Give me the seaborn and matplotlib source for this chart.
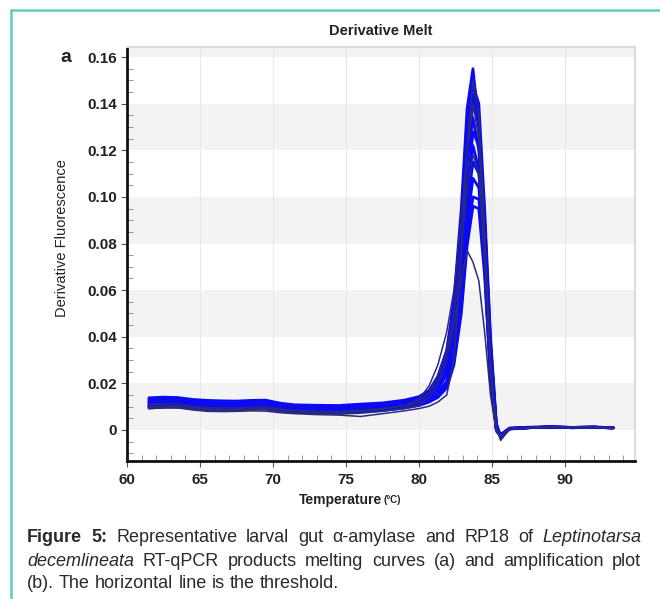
import matplotlib
matplotlib.use("Agg")
import matplotlib.pyplot as plt
import seaborn as sns
import pandas as pd
from matplotlib.lines import Line2D
from matplotlib.ticker import MultipleLocator

sns.set_theme(style="white")
plt.rcParams["font.family"] = ["Liberation Sans", "DejaVu Sans"]

# ---------------- data ----------------
temperature = [61.5, 62.5, 63.5, 64.5, 65.5, 66.5, 67.5, 68.5, 69.5, 70.5, 71.5, 73.0,
               74.5, 76.0, 77.5, 79.0, 80.0, 80.7, 81.3, 81.9, 82.4, 82.9, 83.3, 83.7,
               84.1, 84.5, 84.9, 85.3, 85.6, 86.2, 87.5, 89.0, 90.5, 92.0, 93.3]

curve_a = [0.0138, 0.0141, 0.0139, 0.0131, 0.0127, 0.0125, 0.0124, 0.0127, 0.0128, 0.0115, 0.0108, 0.0106,
           0.0105, 0.0111, 0.0116, 0.0128, 0.0143, 0.0170, 0.0230, 0.0340, 0.0560, 0.0950, 0.1380, 0.1550,
           0.1300, 0.0700, 0.0200, 0.0010, -0.0020, 0.0008, 0.0012, 0.0014, 0.0011, 0.0013, 0.0010]
curve_b = [0.0132, 0.0136, 0.0134, 0.0127, 0.0123, 0.0121, 0.0120, 0.0123, 0.0124, 0.0111, 0.0104, 0.0102,
           0.0101, 0.0106, 0.0112, 0.0123, 0.0137, 0.0160, 0.0210, 0.0310, 0.0520, 0.0900, 0.1330, 0.1520,
           0.1340, 0.0820, 0.0280, 0.0000, -0.0025, 0.0006, 0.0010, 0.0013, 0.0010, 0.0012, 0.0009]
curve_c = [0.0127, 0.0132, 0.0130, 0.0123, 0.0119, 0.0117, 0.0116, 0.0119, 0.0121, 0.0107, 0.0100, 0.0098,
           0.0097, 0.0102, 0.0108, 0.0119, 0.0131, 0.0150, 0.0190, 0.0280, 0.0470, 0.0830, 0.1250, 0.1480,
           0.1400, 0.0950, 0.0400, 0.0030, -0.0030, 0.0005, 0.0011, 0.0012, 0.0010, 0.0011, 0.0010]
curve_d = [0.0122, 0.0127, 0.0125, 0.0119, 0.0115, 0.0113, 0.0112, 0.0116, 0.0117, 0.0104, 0.0097, 0.0095,
           0.0094, 0.0099, 0.0104, 0.0115, 0.0127, 0.0155, 0.0210, 0.0320, 0.0520, 0.0850, 0.1220, 0.1440,
           0.1300, 0.0800, 0.0270, 0.0005, -0.0028, 0.0007, 0.0010, 0.0013, 0.0011, 0.0012, 0.0009]
curve_e = [0.0118, 0.0123, 0.0121, 0.0115, 0.0111, 0.0109, 0.0109, 0.0112, 0.0114, 0.0101, 0.0094, 0.0092,
           0.0091, 0.0096, 0.0101, 0.0111, 0.0123, 0.0140, 0.0170, 0.0240, 0.0400, 0.0740, 0.1150, 0.1400,
           0.1320, 0.0900, 0.0380, 0.0020, -0.0035, 0.0004, 0.0010, 0.0012, 0.0010, 0.0011, 0.0010]
curve_f = [0.0114, 0.0119, 0.0117, 0.0111, 0.0108, 0.0106, 0.0105, 0.0109, 0.0110, 0.0098, 0.0091, 0.0089,
           0.0088, 0.0093, 0.0098, 0.0108, 0.0120, 0.0160, 0.0230, 0.0340, 0.0520, 0.0820, 0.1150, 0.1340,
           0.1200, 0.0760, 0.0260, 0.0000, -0.0025, 0.0006, 0.0010, 0.0012, 0.0011, 0.0012, 0.0009]
curve_g = [0.0110, 0.0115, 0.0113, 0.0107, 0.0104, 0.0102, 0.0102, 0.0105, 0.0107, 0.0095, 0.0088, 0.0086,
           0.0085, 0.0090, 0.0095, 0.0105, 0.0116, 0.0130, 0.0150, 0.0200, 0.0330, 0.0620, 0.1020, 0.1280,
           0.1220, 0.0880, 0.0360, 0.0020, -0.0030, 0.0005, 0.0010, 0.0012, 0.0010, 0.0011, 0.0010]
curve_h = [0.0106, 0.0111, 0.0109, 0.0103, 0.0100, 0.0098, 0.0098, 0.0102, 0.0103, 0.0091, 0.0085, 0.0083,
           0.0082, 0.0087, 0.0092, 0.0102, 0.0113, 0.0140, 0.0180, 0.0260, 0.0420, 0.0700, 0.1030, 0.1220,
           0.1120, 0.0720, 0.0250, 0.0000, -0.0022, 0.0007, 0.0010, 0.0013, 0.0011, 0.0012, 0.0009]
curve_i = [0.0103, 0.0108, 0.0106, 0.0100, 0.0097, 0.0095, 0.0095, 0.0099, 0.0101, 0.0089, 0.0083, 0.0081,
           0.0080, 0.0085, 0.0090, 0.0100, 0.0111, 0.0130, 0.0155, 0.0210, 0.0340, 0.0610, 0.0950, 0.1150,
           0.1100, 0.0800, 0.0330, 0.0020, -0.0028, 0.0005, 0.0010, 0.0012, 0.0010, 0.0011, 0.0010]
curve_j = [0.0100, 0.0105, 0.0103, 0.0097, 0.0094, 0.0092, 0.0092, 0.0096, 0.0098, 0.0087, 0.0081, 0.0079,
           0.0078, 0.0083, 0.0088, 0.0098, 0.0109, 0.0128, 0.0150, 0.0200, 0.0320, 0.0570, 0.0890, 0.1080,
           0.1040, 0.0700, 0.0260, 0.0005, -0.0025, 0.0006, 0.0010, 0.0012, 0.0011, 0.0012, 0.0009]
curve_k = [0.0097, 0.0102, 0.0100, 0.0094, 0.0091, 0.0089, 0.0089, 0.0093, 0.0095, 0.0085, 0.0079, 0.0077,
           0.0076, 0.0081, 0.0086, 0.0096, 0.0107, 0.0125, 0.0145, 0.0190, 0.0300, 0.0530, 0.0830, 0.1000,
           0.0990, 0.0750, 0.0300, 0.0010, -0.0022, 0.0007, 0.0010, 0.0012, 0.0010, 0.0011, 0.0010]
curve_l = [0.0094, 0.0099, 0.0097, 0.0091, 0.0088, 0.0086, 0.0086, 0.0090, 0.0092, 0.0083, 0.0077, 0.0075,
           0.0074, 0.0079, 0.0084, 0.0094, 0.0105, 0.0120, 0.0140, 0.0180, 0.0280, 0.0500, 0.0790, 0.0960,
           0.0950, 0.0660, 0.0240, 0.0005, -0.0020, 0.0006, 0.0010, 0.0012, 0.0011, 0.0012, 0.0009]
navy_1 = [0.0095, 0.0098, 0.0100, 0.0090, 0.0085, 0.0083, 0.0084, 0.0086, 0.0087, 0.0078, 0.0073, 0.0070,
          0.0068, 0.0072, 0.0080, 0.0092, 0.0105, 0.0140, 0.0200, 0.0300, 0.0450, 0.0640, 0.0770, 0.0720,
          0.0640, 0.0420, 0.0150, -0.0010, -0.0030, 0.0005, 0.0010, 0.0012, 0.0010, 0.0011, 0.0010]
navy_2 = [0.0092, 0.0094, 0.0096, 0.0086, 0.0080, 0.0079, 0.0080, 0.0082, 0.0081, 0.0074, 0.0070, 0.0066,
          0.0064, 0.0058, 0.0070, 0.0082, 0.0092, 0.0102, 0.0120, 0.0150, 0.0300, 0.0750, 0.1200, 0.1500,
          0.1350, 0.0850, 0.0300, 0.0010, -0.0045, 0.0005, 0.0010, 0.0012, 0.0010, 0.0011, 0.0010]
navy_3 = [0.0100, 0.0104, 0.0103, 0.0096, 0.0090, 0.0088, 0.0088, 0.0090, 0.0092, 0.0085, 0.0080, 0.0076,
          0.0075, 0.0080, 0.0090, 0.0105, 0.0130, 0.0190, 0.0280, 0.0420, 0.0600, 0.0900, 0.1200, 0.1400,
          0.1250, 0.0780, 0.0270, 0.0000, -0.0028, 0.0006, 0.0010, 0.0013, 0.0011, 0.0012, 0.0009]
navy_4 = [0.0110, 0.0113, 0.0111, 0.0100, 0.0096, 0.0094, 0.0094, 0.0097, 0.0098, 0.0090, 0.0084, 0.0080,
          0.0079, 0.0084, 0.0092, 0.0102, 0.0118, 0.0160, 0.0230, 0.0340, 0.0500, 0.0780, 0.1050, 0.1180,
          0.1100, 0.0720, 0.0260, 0.0005, -0.0025, 0.0006, 0.0010, 0.0012, 0.0010, 0.0011, 0.0010]

navy_curves = {"n1": navy_1, "n2": navy_2, "n3": navy_3, "n4": navy_4}
blue_curves = {"a": curve_a, "b": curve_b, "c": curve_c, "d": curve_d, "e": curve_e, "f": curve_f,
               "g": curve_g, "h": curve_h, "i": curve_i, "j": curve_j, "k": curve_k, "l": curve_l}

x_ticks = [60, 65, 70, 75, 80, 85, 90]
y_ticks = [0, 0.02, 0.04, 0.06, 0.08, 0.10, 0.12, 0.14, 0.16]
y_tick_labels = ["0", "0.02", "0.04", "0.06", "0.08", "0.10", "0.12", "0.14", "0.16"]

# ---------------- build frames ----------------
def long_frame(curves):
    rows = []
    for name, vals in curves.items():
        for t, v in zip(temperature, vals):
            rows.append({"T": t, "dF": v, "well": name})
    return pd.DataFrame(rows)

df_blue = long_frame(blue_curves)
df_navy = long_frame(navy_curves)

W, H = 660, 599
fig = plt.figure(figsize=(W / 100, H / 100), dpi=100)
fig.patch.set_facecolor("white")
ax = fig.add_axes([127 / W, 1 - 461 / H, (635 - 127) / W, (461 - 47) / H])
ax.set_facecolor("white")

ax.set_xlim(60, 94.8)
ax.set_ylim(-0.0133, 0.1643)

# alternating bands
for lo, hi in [(0, 0.02), (0.04, 0.06), (0.08, 0.10), (0.12, 0.14), (0.16, 0.2)]:
    ax.axhspan(lo, hi, color="#f3f3f3", zorder=0, lw=0)
for xv in [65, 70, 75, 80, 85, 90]:
    ax.axvline(xv, color="#e8e8e8", lw=0.8, zorder=0.5)

sns.lineplot(data=df_blue, x="T", y="dF", hue="well", units="well", estimator=None, sort=False,
             palette={k: "#0a0af5" for k in blue_curves}, legend=False, lw=2.0, ax=ax, zorder=2)
sns.lineplot(data=df_navy, x="T", y="dF", hue="well", units="well", estimator=None, sort=False,
             palette={k: "#2b2b7e" for k in navy_curves}, legend=False, lw=1.1, ax=ax, zorder=3)

ax.set_xlabel("")
ax.set_ylabel("")
ax.set_xticks(x_ticks)
ax.set_xticklabels([str(v) for v in x_ticks])
ax.set_yticks(y_ticks)
ax.set_yticklabels(y_tick_labels)
ax.xaxis.set_minor_locator(MultipleLocator(1))
ax.yaxis.set_minor_locator(MultipleLocator(0.005))
ax.tick_params(axis="both", which="major", direction="out", length=4, width=0.8, color="#555555",
               labelsize=11, pad=3, bottom=True, left=True)
ax.tick_params(axis="both", which="minor", direction="in", length=4, width=0.6, color="#888888",
               bottom=True, left=True)
for lab in ax.get_xticklabels() + ax.get_yticklabels():
    lab.set_fontweight("bold")
    lab.set_color("#222222")
ax.tick_params(axis="x", pad=5)

for s in ["left", "bottom"]:
    ax.spines[s].set_color("#111111")
    ax.spines[s].set_linewidth(2.0)
for s in ["top", "right"]:
    ax.spines[s].set_color("#dcdcdc")
    ax.spines[s].set_linewidth(1.5)

# texts
fig.text(381 / W, 1 - 31 / H, "Derivative Melt", ha="center", va="center", fontsize=10.5,
         fontweight="bold", color="#222222")
fig.text(66 / W, 1 - 57 / H, "a", ha="center", va="center", fontsize=14, fontweight="bold", color="#222222")
fig.text(62 / W, 1 - 238 / H, "Derivative Fluorescence", ha="center", va="center", rotation=90,
         fontsize=10.5, color="#222222")
fig.text(382 / W, 1 - 500 / H, "Temperature", ha="right", va="center", fontsize=10,
         fontweight="bold", color="#222222")
fig.text(383 / W, 1 - 500 / H, "(°C)", ha="left", va="center", fontsize=7,
         fontweight="bold", color="#222222")

# teal frame
teal = "#5ccfbf"
fig.add_artist(Line2D([11 / W, 1], [1 - 10 / H, 1 - 10 / H], color=teal, lw=1.8, transform=fig.transFigure))
fig.add_artist(Line2D([11 / W, 11 / W], [0, 1 - 10 / H], color=teal, lw=1.8, transform=fig.transFigure))

# caption (justified)
caption_lines = [
    [("Figure", "bold"), ("5:", "bold"), ("Representative", "n"), ("larval", "n"), ("gut", "n"),
     ("α-amylase", "n"), ("and", "n"), ("RP18", "n"), ("of", "n"), ("Leptinotarsa", "i")],
    [("decemlineata", "i"), ("RT-qPCR", "n"), ("products", "n"), ("melting", "n"), ("curves", "n"),
     ("(a)", "n"), ("and", "n"), ("amplification", "n"), ("plot", "n")],
    [("(b).", "n"), ("The", "n"), ("horizontal", "n"), ("line", "n"), ("is", "n"), ("the", "n"),
     ("threshold.", "n")],
]
cap_y = [538, 561, 584]
x0, x1 = 27, 641
fs = 13
renderer = fig.canvas.get_renderer()
for li, (words, yy) in enumerate(zip(caption_lines, cap_y)):
    arts = []
    for w, st in words:
        t = fig.text(0, 1 - yy / H, w, ha="left", va="center", fontsize=fs, color="#2a2a2a",
                     fontweight="bold" if st == "bold" else "normal",
                     fontstyle="italic" if st == "i" else "normal")
        arts.append(t)
    widths = [a.get_window_extent(renderer).width for a in arts]
    total = sum(widths)
    if li < len(caption_lines) - 1:
        gap = (x1 - x0 - total) / (len(arts) - 1)
    else:
        gap = fs * 100 / 72 * 0.28
    x = x0
    for a, wd in zip(arts, widths):
        a.set_x(x / W)
        x += wd + gap

fig.savefig("out.png", dpi=100, facecolor="white")
